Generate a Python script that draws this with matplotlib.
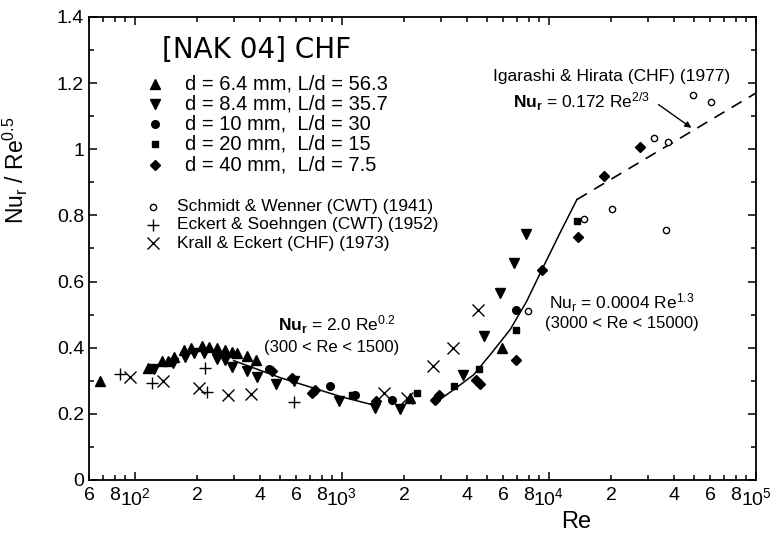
import numpy as np
import matplotlib
matplotlib.use("Agg")
import matplotlib.pyplot as plt
from matplotlib.ticker import LogLocator, FixedLocator, MultipleLocator, FuncFormatter

plt.rcParams['font.family'] = ['Liberation Sans', 'DejaVu Sans']
plt.rcParams['mathtext.fontset'] = 'custom'
plt.rcParams['mathtext.rm'] = 'Liberation Sans'
plt.rcParams['mathtext.it'] = 'Liberation Sans:italic'
plt.rcParams['mathtext.bf'] = 'Liberation Sans:bold'

# [NAK 04] CHF data, Nu_r / Re^0.5 vs Re
re_64 = [68, 116, 135, 144, 155, 172, 187, 211, 229, 249, 271, 294, 311, 348, 385, 2140, 5930]
nu_64 = [0.30, 0.34, 0.36, 0.36, 0.372, 0.393, 0.398, 0.405, 0.402, 0.40, 0.393, 0.387, 0.385,
         0.375, 0.362, 0.248, 0.40]

re_84 = [123, 152, 174, 192, 215, 249, 271, 294, 348, 388, 482, 590, 963, 1450, 1900,
         3850, 4830, 5820, 6790, 7760]
nu_84 = [0.337, 0.354, 0.372, 0.383, 0.383, 0.367, 0.362, 0.343, 0.329, 0.312, 0.29, 0.298,
         0.24, 0.218, 0.216, 0.318, 0.434, 0.566, 0.655, 0.745]

re_10 = [442, 878, 1160, 1740, 6940]
nu_10 = [0.335, 0.283, 0.256, 0.243, 0.515]

re_20 = [1120, 2300, 3460, 4570, 6950, 13650]
nu_20 = [0.258, 0.263, 0.283, 0.335, 0.455, 0.783]

re_40 = [460, 573, 716, 743, 1465, 2830, 2930, 4460, 4660, 6950, 9250, 13740, 18360, 27600]
nu_40 = [0.33, 0.308, 0.263, 0.273, 0.238, 0.243, 0.258, 0.303, 0.291, 0.364, 0.634, 0.735,
         0.918, 1.008]

# other authors
re_sw = [7890, 14690, 20130, 32000, 36900, 37800, 49600, 60800]
nu_sw = [0.51, 0.788, 0.818, 1.035, 0.755, 1.022, 1.165, 1.143]

re_es = [85, 121, 217, 223, 584]
nu_es = [0.319, 0.293, 0.34, 0.266, 0.236]

re_ke = [95, 136, 203, 281, 365, 1590, 2060, 2750, 3440, 4520]
nu_ke = [0.312, 0.299, 0.277, 0.256, 0.261, 0.263, 0.248, 0.345, 0.399, 0.513]

# correlation lines
re_fit_low = [300, 500, 800, 1000, 1500]
nu_fit_low = [0.361, 0.31, 0.27, 0.251, 0.223]

re_fit_high = [2860, 3500, 4325, 5300, 6500, 7800, 9250, 11330, 13650]
nu_fit_high = [0.236, 0.275, 0.318, 0.385, 0.455, 0.54, 0.636, 0.748, 0.848]

re_igarashi = [13650, 100000]
nu_igarashi = [0.848, 1.17]

series = [
    (re_64, nu_64, dict(marker='^', ms=6.5, color='k', ls='none'), 'd = 6.4 mm, L/d = 56.3'),
    (re_84, nu_84, dict(marker='v', ms=6.5, color='k', ls='none'), 'd = 8.4 mm, L/d = 35.7'),
    (re_10, nu_10, dict(marker='o', ms=5.5, color='k', ls='none'), 'd = 10 mm,  L/d = 30'),
    (re_20, nu_20, dict(marker='s', ms=5, color='k', ls='none'), 'd = 20 mm,  L/d = 15'),
    (re_40, nu_40, dict(marker='D', ms=5.5, color='k', ls='none'), 'd = 40 mm,  L/d = 7.5'),
]
others = [
    (re_sw, nu_sw, dict(marker='o', ms=4.5, mfc='white', mec='k', mew=1, ls='none'),
     'Schmidt & Wenner (CWT) (1941)'),
    (re_es, nu_es, dict(marker='+', ms=9, color='k', mew=1, ls='none'),
     'Eckert & Soehngen (CWT) (1952)'),
    (re_ke, nu_ke, dict(marker='x', ms=8, color='k', mew=1, ls='none'),
     'Krall & Eckert (CHF) (1973)'),
]

fig = plt.figure(figsize=(7.71, 5.36), dpi=100)
ax = fig.add_axes([0.1154, 0.1045, 0.8651, 0.8638])

ax.plot(re_fit_low, nu_fit_low, color='k', lw=1.1)
ax.plot(re_fit_high, nu_fit_high, color='k', lw=1.1)
ax.plot(re_igarashi, nu_igarashi, color='k', lw=1.2, ls=(0, (7, 5)))

for re, nu, st, _ in series + others:
    ax.plot(re, nu, **st)

ax.set_xscale('log')
ax.set_xlim(60, 1e5)
ax.set_ylim(0, 1.4)

ax.xaxis.set_major_locator(FixedLocator([1e2, 1e3, 1e4, 1e5]))
ax.xaxis.set_major_formatter(FuncFormatter(lambda v, p: r'$10^{%d}$' % round(np.log10(v))))
ax.xaxis.set_minor_locator(LogLocator(base=10, subs=np.arange(2, 10), numticks=20))


def minor_fmt(v, p):
    m = int(round(v / 10 ** np.floor(np.log10(v) + 1e-9)))
    return str(m) if m in (2, 4, 6, 8) else ''


ax.xaxis.set_minor_formatter(FuncFormatter(minor_fmt))
ax.yaxis.set_major_locator(MultipleLocator(0.2))
ax.yaxis.set_minor_locator(MultipleLocator(0.1))
ax.yaxis.set_major_formatter(FuncFormatter(lambda v, p: '%g' % round(v, 1)))

ax.tick_params(which='both', direction='in', top=True, right=True, labelsize=14, width=1.1)
ax.tick_params(which='major', length=6)
ax.tick_params(which='minor', length=3.5)
ax.tick_params(axis='x', which='both', pad=5)
for s in ax.spines.values():
    s.set_linewidth(1.3)

ax.set_xlabel('Re', fontsize=17)
ax.xaxis.set_label_coords(0.73, -0.068)
ax.set_ylabel(r'Nu$_\mathrm{r}$ / Re$^{0.5}$', fontsize=16.5)
ax.yaxis.set_label_coords(-0.088, 0.67)

# hand-made legend block
ax.text(0.109, 0.929, '[NAK 04] CHF', transform=ax.transAxes, fontsize=20,
        family='DejaVu Sans', va='center', ha='left')
rows1 = [0.855, 0.812, 0.769, 0.726, 0.681]
for (re, nu, st, lab), yy in zip(series, rows1):
    ax.plot([0.099], [yy], transform=ax.transAxes, clip_on=False, **st)
    ax.text(0.144, yy, lab, transform=ax.transAxes, fontsize=14.5, va='center', ha='left')
rows2 = [0.590, 0.551, 0.511]
for (re, nu, st, lab), yy in zip(others, rows2):
    ax.plot([0.096], [yy], transform=ax.transAxes, clip_on=False, **st)
    ax.text(0.132, yy, lab, transform=ax.transAxes, fontsize=12.5, va='center', ha='left')

# correlation labels
ax.text(0.605, 0.871, 'Igarashi & Hirata (CHF) (1977)', transform=ax.transAxes,
        fontsize=12.5, va='center', ha='left')
ax.text(0.635, 0.817, r'$\mathbf{Nu}_\mathbf{r}$ = 0.172 Re$^{2/3}$', transform=ax.transAxes,
        fontsize=12.5, va='center', ha='left')
ax.annotate('', xy=(5.0e4, 1.06), xytext=(3.3e4, 1.14),
            arrowprops=dict(arrowstyle='-|>', color='k', lw=1, mutation_scale=9))
ax.text(0.689, 0.382, r'Nu$_\mathrm{r}$ = 0.0004 Re$^{1.3}$', transform=ax.transAxes,
        fontsize=12.5, va='center', ha='left')
ax.text(0.684, 0.338, '(3000 < Re < 15000)', transform=ax.transAxes,
        fontsize=12, va='center', ha='left')
ax.text(0.283, 0.335, r'$\mathbf{Nu}_\mathbf{r}$ = 2.0 Re$^{0.2}$', transform=ax.transAxes,
        fontsize=12.5, va='center', ha='left')
ax.text(0.262, 0.287, '(300 < Re < 1500)', transform=ax.transAxes,
        fontsize=12, va='center', ha='left')

fig.savefig('out.png', dpi=100)
